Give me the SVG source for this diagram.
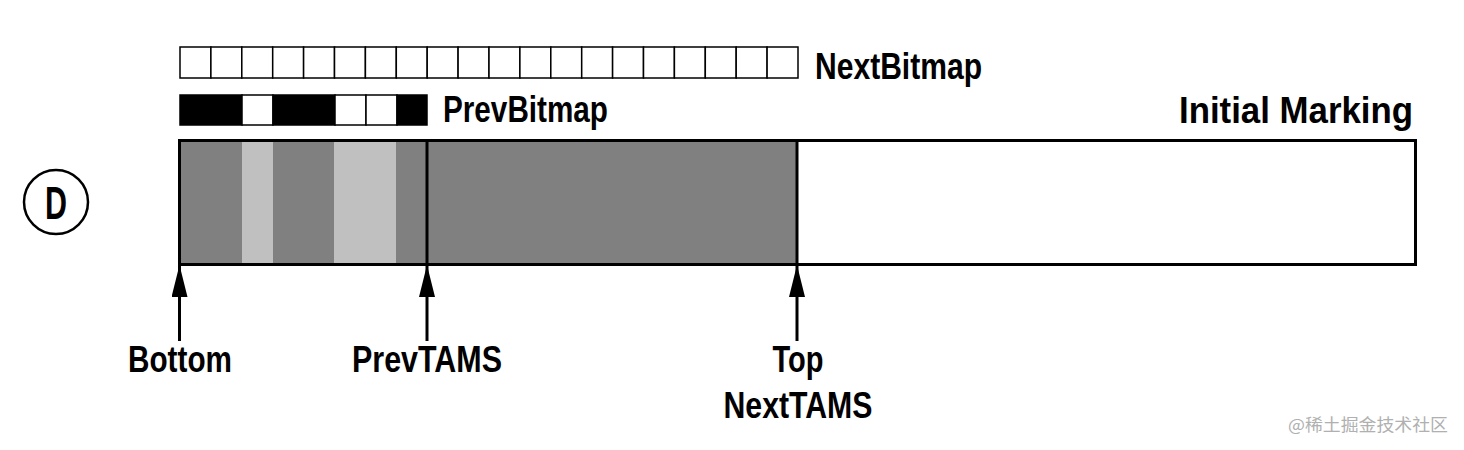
<svg xmlns="http://www.w3.org/2000/svg" width="1464" height="450" viewBox="0 0 1464 450">
<defs>
<style>
.lbl{font-family:"Liberation Sans",Arial,sans-serif;font-weight:bold;font-size:36px;fill:#000}
.cell{fill:#fff;stroke:#000;stroke-width:1.5}
.blk{fill:#000;stroke:#000;stroke-width:1.5}
.wcell{fill:#fff;stroke:#000;stroke-width:1.5}
.dark{fill:#808080}
.light{fill:#c0c0c0}
.conn{stroke:#000;stroke-width:3;fill:none;marker-end:url(#ah)}
</style>
<marker id="ah" viewBox="0 0 32 16" markerWidth="32" markerHeight="16" refX="32" refY="8" orient="auto" markerUnits="userSpaceOnUse">
<path d="M0,0 L32,8 L0,16 z" fill="#000"/>
</marker>
</defs>
<rect width="1464" height="450" fill="#fff"/>

<g id="nextbitmap">
<rect class="cell" x="180" y="47" width="30.9" height="31"/>
<rect class="cell" x="210.9" y="47" width="30.9" height="31"/>
<rect class="cell" x="241.8" y="47" width="30.9" height="31"/>
<rect class="cell" x="272.7" y="47" width="30.9" height="31"/>
<rect class="cell" x="303.6" y="47" width="30.9" height="31"/>
<rect class="cell" x="334.5" y="47" width="30.9" height="31"/>
<rect class="cell" x="365.4" y="47" width="30.9" height="31"/>
<rect class="cell" x="396.3" y="47" width="30.9" height="31"/>
<rect class="cell" x="427.2" y="47" width="30.9" height="31"/>
<rect class="cell" x="458.1" y="47" width="30.9" height="31"/>
<rect class="cell" x="489" y="47" width="30.9" height="31"/>
<rect class="cell" x="519.9" y="47" width="30.9" height="31"/>
<rect class="cell" x="550.8" y="47" width="30.9" height="31"/>
<rect class="cell" x="581.7" y="47" width="30.9" height="31"/>
<rect class="cell" x="612.6" y="47" width="30.9" height="31"/>
<rect class="cell" x="643.5" y="47" width="30.9" height="31"/>
<rect class="cell" x="674.4" y="47" width="30.9" height="31"/>
<rect class="cell" x="705.3" y="47" width="30.9" height="31"/>
<rect class="cell" x="736.2" y="47" width="30.9" height="31"/>
<rect class="cell" x="767.1" y="47" width="30.9" height="31"/>
<text class="lbl" x="815" y="79" textLength="167" lengthAdjust="spacingAndGlyphs">NextBitmap</text>
</g>

<g id="prevbitmap">
<rect class="blk" x="180" y="95" width="62" height="30"/>
<rect class="wcell" x="242" y="95" width="31" height="30"/>
<rect class="blk" x="273" y="95" width="62" height="30"/>
<rect class="wcell" x="335" y="95" width="31" height="30"/>
<rect class="wcell" x="366" y="95" width="31" height="30"/>
<rect class="blk" x="397" y="95" width="30" height="30"/>
<text class="lbl" x="443" y="122" textLength="165" lengthAdjust="spacingAndGlyphs">PrevBitmap</text>
</g>

<g id="title">
<text class="lbl" x="1413" y="123" text-anchor="end" textLength="234" lengthAdjust="spacingAndGlyphs">Initial Marking</text>
</g>

<g id="label-d">
<circle cx="56" cy="202" r="32" fill="#fff" stroke="#000" stroke-width="2.5"/>
<text class="lbl" x="56" y="219" text-anchor="middle" font-size="46" textLength="22" lengthAdjust="spacingAndGlyphs" style="font-size:46px">D</text>
</g>

<g id="region">
<rect class="dark" x="180" y="141" width="62" height="123"/>
<rect class="light" x="242" y="141" width="31" height="123"/>
<rect class="dark" x="273" y="141" width="61" height="123"/>
<rect class="light" x="334" y="141" width="62" height="123"/>
<rect class="dark" x="396" y="141" width="31" height="123"/>
<rect class="dark" x="427" y="141" width="370" height="123"/>
<rect x="179.5" y="140.5" width="1236" height="124" fill="none" stroke="#000" stroke-width="3"/>
<line x1="427" y1="140" x2="427" y2="265" stroke="#000" stroke-width="3"/>
<line x1="797" y1="140" x2="797" y2="265" stroke="#000" stroke-width="3"/>
</g>

<g id="connectors">
<line class="conn" x1="179.5" y1="341" x2="179.5" y2="265"/>
<line class="conn" x1="427" y1="341" x2="427" y2="265"/>
<line class="conn" x1="797" y1="341" x2="797" y2="265"/>
</g>

<g id="bottom">
<text class="lbl" x="180" y="372" text-anchor="middle" textLength="104" lengthAdjust="spacingAndGlyphs">Bottom</text>
</g>
<g id="prevtams">
<text class="lbl" x="427" y="372" text-anchor="middle" textLength="150" lengthAdjust="spacingAndGlyphs">PrevTAMS</text>
</g>
<g id="top">
<text class="lbl" x="798" y="372" text-anchor="middle" textLength="51" lengthAdjust="spacingAndGlyphs">Top</text>
<text class="lbl" x="798" y="418" text-anchor="middle" textLength="149" lengthAdjust="spacingAndGlyphs">NextTAMS</text>
</g>

<text x="1288" y="431" font-family="'Noto Sans CJK SC',sans-serif" font-size="17" fill="#b0b0b0" textLength="160" lengthAdjust="spacingAndGlyphs">@稀土掘金技术社区</text>
</svg>
